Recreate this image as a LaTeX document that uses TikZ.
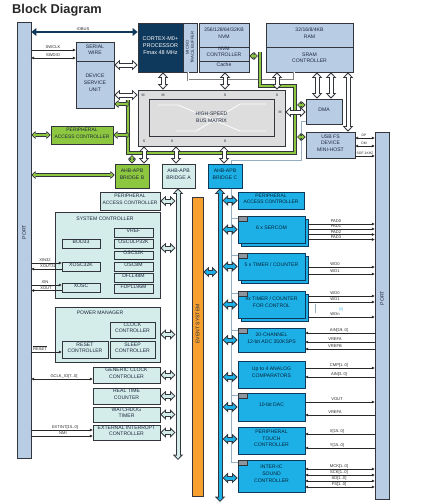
\documentclass[tikz,border=0pt]{standalone}
\usepackage{fontspec}
\setmainfont{Liberation Sans}
\usetikzlibrary{arrows.meta,fit,positioning}

\definecolor{lblue}{RGB}{184,204,228}
\definecolor{navyc}{RGB}{14,56,92}
\definecolor{grnc}{RGB}{141,198,63}
\definecolor{lcyan}{RGB}{212,236,234}
\definecolor{cyanc}{RGB}{28,176,230}
\definecolor{orngc}{RGB}{247,160,48}
\definecolor{mgray}{RGB}{221,221,221}
\definecolor{edgec}{RGB}{50,54,60}
\definecolor{txtc}{RGB}{28,38,60}
\definecolor{evc}{RGB}{150,175,195}
\definecolor{sigc}{RGB}{40,40,40}
\definecolor{tabc}{RGB}{140,150,160}

\tikzset{
  box/.style={draw=edgec, line width=0.7pt, inner sep=0pt, align=center,
    text=txtc, font=\fontsize{5.1}{6.3}\selectfont},
  lbox/.style={box, fill=lblue},
  abox/.style={box, fill=lcyan},
  cbox/.style={box, fill=cyanc, draw=navyc, text=navyc!60!black},
  gbox/.style={box, fill=grnc},
  tab/.style={draw=edgec, fill=tabc, line width=0.4pt, inner sep=0pt},
  txt/.style={inner sep=0pt, text=txtc, align=center, font=\fontsize{5.1}{6}\selectfont},
  tiny/.style={inner sep=0pt, text=txtc, font=\fontsize{3.6}{4}\selectfont},
  slbl/.style={inner sep=0pt, anchor=base, text=sigc, font=\fontsize{4.1}{4.5}\selectfont},
  sig/.style={draw=sigc, line width=0.55pt},
  sigr/.style={sig, -{Triangle[width=2.6pt,length=2.8pt]}},
  sigl/.style={sig, {Triangle[width=2.6pt,length=2.8pt]}-},
  sigb/.style={sig, {Triangle[width=2.6pt,length=2.8pt]}-{Triangle[width=2.6pt,length=2.8pt]}},
  hol/.style={draw=edgec, line width=5pt,
    {Triangle[width=10.5pt,length=5.5pt,line width=0pt]}-{Triangle[width=10.5pt,length=5.5pt,line width=0pt]},
    postaction={draw=#1, line width=3pt, shorten <=1.45pt, shorten >=1.45pt,
      {Triangle[width=5.8pt,length=3.05pt,line width=0pt]}-{Triangle[width=5.8pt,length=3.05pt,line width=0pt]}}},
  hol/.default=white,
  gar/.style={draw=edgec, line width=3.8pt,
    {Triangle[width=8pt,length=4.2pt,line width=0pt]}-{Triangle[width=8pt,length=4.2pt,line width=0pt]},
    postaction={draw=grnc, line width=2.2pt, shorten <=1.16pt, shorten >=1.16pt,
      {Triangle[width=4.3pt,length=2.25pt,line width=0pt]}-{Triangle[width=4.3pt,length=2.25pt,line width=0pt]}}},
  iobus/.style={draw=navyc, line width=2.2pt,
    {Triangle[width=8pt,length=5pt,line width=0pt]}-{Triangle[width=8pt,length=5pt,line width=0pt]}},
  gline/.style={draw=edgec, line width=4.2pt, line join=miter,
    postaction={draw=grnc, line width=2.6pt}},
  evline/.style={draw=evc, line width=0.8pt},
  mtbline/.style={draw=gray, line width=2.2pt, postaction={draw=white, line width=1pt}},
  busdeco/.style={draw=white, line width=0.9pt, opacity=0.85},
}

\begin{document}
\begin{tikzpicture}[x=1pt, y=-1pt]
  \useasboundingbox (0,0) rectangle (427,504);
  % title
  \node[anchor=base west, inner sep=0pt, font=\fontsize{12.8}{14}\selectfont\bfseries, text=black!85] (title) at (12,13) {Block Diagram};
  % coordinates for the green peripheral bus
  \coordinate (gA) at (260,52);
  \coordinate (gB) at (260,86);
  \coordinate (gC) at (295,86);
  \coordinate (gD) at (295,153);
  \coordinate (gE) at (128,153);
  \coordinate (gF) at (128,100);
  \coordinate (gNv) at (258,56);
  \coordinate (gDm) at (297,105);
  \coordinate (gUs) at (297,137);
  \coordinate (gDs) at (130,104);
  \coordinate (gPc) at (130,135);
  \coordinate (gBr) at (132,155);
  % coordinates for the event line, the trace line and the APB buses
  \coordinate (evA) at (301,121);
  \coordinate (evB) at (301,160);
  \coordinate (evC) at (231,160);
  \coordinate (evD) at (231,462.5);
  \coordinate (mtbC) at (294,80);
  \coordinate (busAend) at (178,460);
  \coordinate (busCend) at (220,502);
  \coordinate (busAl) at (175.5,0);
  \coordinate (busCr) at (222.5,0);
  \coordinate (busCl) at (217.5,0);
  % drawing the ports
  \node[lbox, fit={(17,22) (31,458)}] (portL) {};
  \node[txt, rotate=90] (portLtxt) at (24,232) {PORT};
  \node[lbox, fit={(375,132) (389,499)}] (portR) {};
  \node[txt, rotate=90] (portRtxt) at (382,298) {PORT};
  % drawing the processor, the memories and the debug blocks
  \node[box, fill=navyc, text=white, font=\fontsize{5.5}{7}\selectfont, fit={(138,23) (183,72)}] (cpu) {CORTEX-M0+\\PROCESSOR\\Fmax 48 MHz};
  \node[lbox, fit={(183,23) (197,72)}] (mtb) {};
  \node[tiny, rotate=90, align=center, font=\fontsize{4.2}{5}\selectfont] (mtbtxt) at (mtb) {MICRO\\TRACE BUFFER};
  \node[lbox, fit={(199,23) (249,47)}] (nvm) {256/128/64/32KB\\NVM};
  \node[lbox, font=\fontsize{5.1}{6}\selectfont, fit={(199,47) (249,61)}] (nvmctrl) {NVM\\CONTROLLER};
  \node[lbox, fit={(199,61) (249,72)}] (cache) {Cache};
  \node[lbox, fit={(266,23) (353,47)}] (ram) {32/16/8/4KB\\RAM};
  \node[lbox, fit={(266,47) (353,72)}] (sramctrl) {SRAM\\CONTROLLER};
  \node[lbox, fit={(76,42) (114,61)}] (sw) {SERIAL\\WIRE};
  \node[lbox, font=\fontsize{5.1}{7}\selectfont, fit={(76,61) (114,108)}] (dsu) {DEVICE\\SERVICE\\UNIT};
  % drawing the bus matrix
  \node[box, fill=mgray, line width=0.8pt, fit={(138,90) (285,146)}] (bus) {};
  \node[box, fill=mgray, fit={(149,99) (274,136)}] (businner) {};
  \draw[busdeco] (158,105) -- (178,105) -- (240,131) -- (266,131);
  \draw[busdeco] (176,131) -- (196,131) -- (240,104) -- (266,104);
  \node[txt, font=\fontsize{5.1}{7}\selectfont] (bustxt) at (businner) {HIGH-SPEED\\BUS MATRIX};
  \node[tiny] (mA) at (143,95) {M};
  \node[tiny] (mB) at (163,95) {M};
  \node[tiny] (sA) at (225,95) {S};
  \node[tiny] (sB) at (277,95) {S};
  \node[tiny] (mC) at (280,112) {M};
  \node[tiny] (sC) at (144,141) {S};
  \node[tiny] (sD) at (172,141) {S};
  \node[tiny] (sE) at (225,141) {S};
  % drawing the masters beside the bus matrix
  \node[gbox, font=\fontsize{4.9}{6.3}\selectfont, fit={(51,126) (113,144)}] (pacB) {PERIPHERAL\\ACCESS CONTROLLER};
  \node[lbox, fit={(306,99) (342,124)}] (dma) {DMA};
  \node[lbox, fit={(306,132) (355,158)}] (usb) {USB FS\\DEVICE\\MINI-HOST};
  % drawing the event line and the trace line
  \draw[evline] (dma.west |- evA) -- (evA) -- (evB) -- (evC) -- (evD);
  \draw[mtbline] (mtb.south -| 188,0) |- (mtbC) -- (sramctrl.south -| mtbC);
  % drawing the green peripheral bus
  \draw[gline] (gA) -- (gB) -- (gC) -- (gD) -- (gE) -- (gF);
  % drawing the bridges and the event system
  \node[gbox, fit={(115,164) (149,188)}] (bridgeB) {AHB-APB\\BRIDGE B};
  \node[abox, fit={(162,164) (195,188)}] (bridgeA) {AHB-APB\\BRIDGE A};
  \node[cbox, fit={(208,164) (242,188)}] (bridgeC) {AHB-APB\\BRIDGE C};
  \node[box, fill=orngc, fit={(192,197) (203,496)}] (evsys) {};
  \node[txt, rotate=90] (evsystxt) at (197.5,324) {EVENT SYSTEM};
  % drawing the peripherals of bridge A
  \node[abox, font=\fontsize{4.9}{6.3}\selectfont, fit={(100,192) (160,210)}] (pacA) {PERIPHERAL\\ACCESS CONTROLLER};
  \node[abox, fit={(55,212) (160,298)}] (sysctrl) {};
  \node[txt] (sysctrlT) at (105,219) {SYSTEM CONTROLLER};
  \node[abox, line width=0.9pt, fit={(114,228) (153,237)}] (vref) {VREF};
  \node[abox, line width=0.9pt, fit={(114,239) (153,248)}] (osculp) {OSCULP32K};
  \node[abox, line width=0.9pt, fit={(114,251) (153,259)}] (osc32k) {OSC32K};
  \node[abox, line width=0.9pt, fit={(114,262) (153,271)}] (osc8m) {OSC8M};
  \node[abox, line width=0.9pt, fit={(114,273) (153,282)}] (dfll) {DFLL48M};
  \node[abox, line width=0.9pt, fit={(114,284) (153,293)}] (fdpll) {FDPLL96M};
  \node[abox, line width=0.9pt, fit={(62,239) (100,248)}] (bod) {BOD33};
  \node[abox, line width=0.9pt, fit={(62,262) (100,271)}] (xosc32k) {XOSC32K};
  \node[abox, line width=0.9pt, fit={(62,283) (100,292)}] (xosc) {XOSC};
  \node[abox, fit={(55,307) (160,362)}] (pm) {};
  \node[txt] (pmT) at (100,313) {POWER MANAGER};
  \node[abox, line width=0.9pt, font=\fontsize{5.1}{6}\selectfont, fit={(110,322) (155,338)}] (clkctrl) {CLOCK\\CONTROLLER};
  \node[abox, line width=0.9pt, font=\fontsize{5.1}{6}\selectfont, fit={(62,341) (108,358)}] (rstctrl) {RESET\\CONTROLLER};
  \node[abox, line width=0.9pt, font=\fontsize{5.1}{6}\selectfont, fit={(110,341) (155,358)}] (slpctrl) {SLEEP\\CONTROLLER};
  \node[abox, font=\fontsize{5.1}{6.5}\selectfont, fit={(93,367) (160,383)}] (gclk) {GENERIC CLOCK\\CONTROLLER};
  \node[abox, font=\fontsize{5.1}{6.5}\selectfont, fit={(93,388) (160,404)}] (rtc) {REAL TIME\\COUNTER};
  \node[abox, font=\fontsize{5.1}{6.5}\selectfont, fit={(93,407) (160,422)}] (wdt) {WATCHDOG\\TIMER};
  \node[abox, font=\fontsize{5.1}{6.5}\selectfont, fit={(93,425) (160,440)}] (eic) {EXTERNAL INTERRUPT\\CONTROLLER};
  % drawing the peripherals of bridge C
  \node[cbox, font=\fontsize{4.9}{6.3}\selectfont, fit={(238,192) (304,209)}] (pacC) {PERIPHERAL\\ACCESS CONTROLLER};
  \node[cbox, fit={(241,219) (308,246)}] (sercomS) {};
  \node[cbox, fit={(238,216) (305,243)}] (sercom) {6 x SERCOM};
  \node[tab, fit={(238,216) (247,221)}] (sercomT) {};
  \node[cbox, fit={(241,256) (308,283)}] (tcS) {};
  \node[cbox, fit={(238,253) (305,280)}] (tc) {5 x TIMER / COUNTER};
  \node[tab, fit={(238,253) (247,258)}] (tcT) {};
  \node[cbox, fit={(241,294) (308,321)}] (tccS) {};
  \node[cbox, font=\fontsize{5.1}{7}\selectfont, fit={(238,291) (305,318)}] (tcc) {4x TIMER / COUNTER\\FOR CONTROL};
  \node[tab, fit={(238,291) (247,296)}] (tccT) {};
  \node[cbox, font=\fontsize{5.1}{7}\selectfont, fit={(238,328) (305,352)}] (adc) {20-CHANNEL\\12-bit ADC 350KSPS};
  \node[tab, fit={(238,328) (247,333)}] (adcT) {};
  \node[cbox, font=\fontsize{5.1}{7}\selectfont, fit={(238,361) (305,388)}] (ac) {Up to 4 ANALOG\\COMPARATORS};
  \node[cbox, fit={(238,393) (305,421)}] (dac) {10-bit DAC};
  \node[tab, fit={(238,393) (247,398)}] (dacT) {};
  \node[cbox, font=\fontsize{5.1}{6.5}\selectfont, fit={(238,427) (305,454)}] (ptc) {PERIPHERAL\\TOUCH\\CONTROLLER};
  \node[cbox, font=\fontsize{5.1}{7}\selectfont, fit={(238,460) (305,492)}] (i2s) {INTER-IC\\SOUND\\CONTROLLER};
  \node[tab, fit={(238,460) (247,465)}] (i2sT) {};
  % drawing the event stubs
  \draw[evline] (evC |- sercomT.west) -- (sercomT.west);
  \draw[evline] (evC |- tcT.west) -- (tcT.west);
  \draw[evline] (evC |- tccT.west) -- (tccT.west);
  \draw[evline] (evC |- adcT.west) -- (adcT.west);
  \draw[evline] (evC |- dacT.west) -- (dacT.west);
  \draw[evline] (evC |- i2sT.west) -- (i2sT.west);
  % drawing the core arrows
  \draw[iobus] (portL.east |- 0,32) -- (cpu.west |- 0,32);
  \node[slbl] (iobusL) at (83,30) {IOBUS};
  \draw[hol] (dsu.east |- 0,65) -- (cpu.west |- 0,65);
  \draw[hol] (dsu.east |- 0,95) -- (bus.west |- 0,95);
  \draw[hol] (cpu.south -| 163,0) -- (bus.north -| 163,0);
  \draw[hol] (cache.south -| 225,0) -- (bus.north -| 225,0);
  \draw[hol] (sramctrl.south -| 277,0) -- (bus.north -| 277,0);
  \draw[hol] (bus.east |- 0,112) -- (dma.west |- 0,112);
  \draw[hol] (sramctrl.south -| 317,0) -- (dma.north -| 317,0);
  \draw[hol] (sramctrl.south -| 331,0) -- (dma.north -| 331,0);
  \draw[hol] (sramctrl.south -| 348,0) -- (usb.north -| 348,0);
  \draw[hol] (bus.south -| 144,0) -- (bridgeB.north -| 144,0);
  \draw[hol] (bus.south -| 176,0) -- (bridgeA.north -| 176,0);
  \draw[hol] (bus.south -| 224,0) -- (bridgeC.north -| 224,0);
  % drawing the green arrows
  \draw[gar] (nvmctrl.east |- gNv) -- (gNv);
  \draw[gar] (gDm) -- (dma.west |- gDm);
  \draw[gar] (gUs) -- (usb.west |- gUs);
  \draw[gar] (dsu.east |- gDs) -- (gDs);
  \draw[gar] (pacB.east) -- (gPc |- pacB.east);
  \draw[gar] (gBr) -- (bridgeB.north -| gBr);
  \draw[gar] (portL.east |- pacB.west) -- (pacB.west);
  \draw[gar] (portL.east |- 0,175) -- (bridgeB.west |- 0,175);
  % drawing the APB buses
  \draw[hol=lcyan] (bridgeA.south -| busAend) -- (busAend);
  \draw[hol=cyanc] (bridgeC.south -| busCend) -- (busCend);
  \draw[hol=lcyan] (pacA.east) -- (busAl |- pacA.east);
  \draw[hol=lcyan] (sysctrl.east |- 0,248) -- (busAl |- 0,248);
  \draw[hol=lcyan] (pm.east) -- (busAl |- pm.east);
  \draw[hol=lcyan] (gclk.east) -- (busAl |- gclk.east);
  \draw[hol=lcyan] (rtc.east) -- (busAl |- rtc.east);
  \draw[hol=lcyan] (wdt.east) -- (busAl |- wdt.east);
  \draw[hol=lcyan] (eic.east) -- (busAl |- eic.east);
  \draw[hol=cyanc] (evsys.east |- 0,272) -- (busCl |- 0,272);
  \draw[hol=cyanc] (busCr |- pacC.west) -- (pacC.west);
  \draw[hol=cyanc] (busCr |- sercom.west) -- (sercom.west);
  \draw[hol=cyanc] (busCr |- tc.west) -- (tc.west);
  \draw[hol=cyanc] (busCr |- tcc.west) -- (tcc.west);
  \draw[hol=cyanc] (busCr |- adc.west) -- (adc.west);
  \draw[hol=cyanc] (busCr |- 0,377) -- (ac.west |- 0,377);
  \draw[hol=cyanc] (busCr |- dac.west) -- (dac.west);
  \draw[hol=cyanc] (busCr |- 0,439) -- (ptc.west |- 0,439);
  \draw[hol=cyanc] (busCr |- 0,478) -- (i2s.west |- 0,478);
  % drawing the signals of the left port
  \draw[sigr] (portL.east |- 0,50) -- (sw.west |- 0,50);
  \node[slbl] (swclkL) at (53,48.4) {SWCLK};
  \draw[sigb] (portL.east |- 0,58) -- (sw.west |- 0,58);
  \node[slbl] (swdioL) at (53,56.4) {SWDIO};
  \draw[sigr] (portL.east |- 0,263) -- (xosc32k.west |- 0,263);
  \node[slbl] (xin32L) at (45,261.6) {XIN32};
  \draw[sigl] (portL.east |- 0,269) -- (xosc32k.west |- 0,269);
  \node[slbl] (xout32L) at (48,267.6) {XOUT32};
  \draw[sigr] (portL.east |- 0,285) -- (xosc.west |- 0,285);
  \node[slbl] (xinL) at (45,283.6) {XIN};
  \draw[sigl] (portL.east |- 0,290.5) -- (xosc.west |- 0,290.5);
  \node[slbl] (xoutL) at (46,289.1) {XOUT};
  \draw[sigr] (portL.east |- 0,352) -- (rstctrl.west |- 0,352);
  \node[slbl] (resetL) at (40,350.4) {$\overline{\hbox{RESET}}$};
  \draw[sigb] (portL.east |- 0,379) -- (gclk.west |- 0,379);
  \node[slbl] (gclkL) at (64,377.4) {GCLK\_IO[7..0]};
  \draw[sigr] (portL.east |- 0,430) -- (eic.west |- 0,430);
  \node[slbl] (extintL) at (65,428.6) {EXTINT[15..0]};
  \draw[sigr] (portL.east |- 0,436) -- (eic.west |- 0,436);
  \node[slbl] (nmiL) at (63,434.6) {NMI};
  % drawing the signals of the right port
  \draw[sigb] (usb.east |- 0,138) -- (portR.west |- 0,138);
  \node[slbl, font=\fontsize{3.4}{4}\selectfont] (dpL) at (364,136.8) {DP};
  \draw[sigb] (usb.east |- 0,146) -- (portR.west |- 0,146);
  \node[slbl, font=\fontsize{3.4}{4}\selectfont] (dmL) at (364,144.8) {DM};
  \draw[sigr] (usb.east |- 0,156) -- (portR.west |- 0,156);
  \node[slbl, font=\fontsize{3.4}{4}\selectfont] (sofL) at (365,154.8) {SOF 1KHZ};
  \draw[sigr] (sercomS.east |- 0,224) -- (portR.west |- 0,224);
  \node[slbl] (pad0L) at (336,222.6) {PAD0};
  \draw[sigr] (sercomS.east |- 0,229) -- (portR.west |- 0,229);
  \node[slbl] (pad1L) at (336,227.6) {PAD1};
  \draw[sigr] (sercomS.east |- 0,234.5) -- (portR.west |- 0,234.5);
  \node[slbl] (pad2L) at (336,233.1) {PAD2};
  \draw[sigr] (sercomS.east |- 0,239.5) -- (portR.west |- 0,239.5);
  \node[slbl] (pad3L) at (336,238.1) {PAD3};
  \draw[sigr] (tcS.east |- 0,267) -- (portR.west |- 0,267);
  \node[slbl] (tcwo0L) at (335,265.4) {WO0};
  \draw[sigr] (tcS.east |- 0,274) -- (portR.west |- 0,274);
  \node[slbl] (tcwo1L) at (335,272.4) {WO1};
  \draw[sigr] (tccS.east |- 0,296) -- (portR.west |- 0,296);
  \node[slbl] (tccwo0L) at (335,294.4) {WO0};
  \draw[sigr] (tccS.east |- 0,302) -- (portR.west |- 0,302);
  \node[slbl] (tccwo1L) at (335,300.4) {WO1};
  \draw[sigr] (tccS.east |- 0,317) -- (portR.west |- 0,317);
  \node[slbl] (tccwonL) at (335,315.4) {WOn};
  \draw[evline] (315,304) -- (315,313);
  \node[tiny, text=cyanc] (noteL) at (341,310) {(2)};
  \draw[sigl] (adc.east |- 0,333) -- (portR.west |- 0,333);
  \node[slbl] (ainL) at (339,331.4) {AIN[19..0]};
  \draw[sigl] (adc.east |- 0,342) -- (portR.west |- 0,342);
  \node[slbl] (vrefaL) at (335,340.4) {VREFA};
  \draw[sigl] (adc.east |- 0,349) -- (portR.west |- 0,349);
  \node[slbl] (vrefbL) at (335,347.4) {VREFB};
  \draw[sigr] (ac.east |- 0,368) -- (portR.west |- 0,368);
  \node[slbl] (cmpL) at (339,366.4) {CMP[1..0]};
  \draw[sigl] (ac.east |- 0,377) -- (portR.west |- 0,377);
  \node[slbl] (ain2L) at (339,375.4) {AIN[3..0]};
  \draw[sigr] (dac.east |- 0,402) -- (portR.west |- 0,402);
  \node[slbl] (voutL) at (337,400.4) {VOUT};
  \draw[sigl] (dac.east |- 0,415) -- (portR.west |- 0,415);
  \node[slbl] (vrefa2L) at (335,413.4) {VREFA};
  \draw[sigl] (ptc.east |- 0,434) -- (portR.west |- 0,434);
  \node[slbl] (xL) at (337,432.4) {X[15..0]};
  \draw[sigl] (ptc.east |- 0,448) -- (portR.west |- 0,448);
  \node[slbl] (yL) at (337,446.4) {Y[15..0]};
  \draw[sigb] (i2s.east |- 0,469) -- (portR.west |- 0,469);
  \node[slbl] (mckL) at (339,467.6) {MCK[1..0]};
  \draw[sigb] (i2s.east |- 0,475) -- (portR.west |- 0,475);
  \node[slbl] (sckL) at (339,473.6) {SCK[1..0]};
  \draw[sigb] (i2s.east |- 0,481) -- (portR.west |- 0,481);
  \node[slbl] (sdL) at (339,479.6) {SD[1..0]};
  \draw[sigb] (i2s.east |- 0,487) -- (portR.west |- 0,487);
  \node[slbl] (fsL) at (339,485.6) {FS[1..0]};
\end{tikzpicture}
\end{document}
